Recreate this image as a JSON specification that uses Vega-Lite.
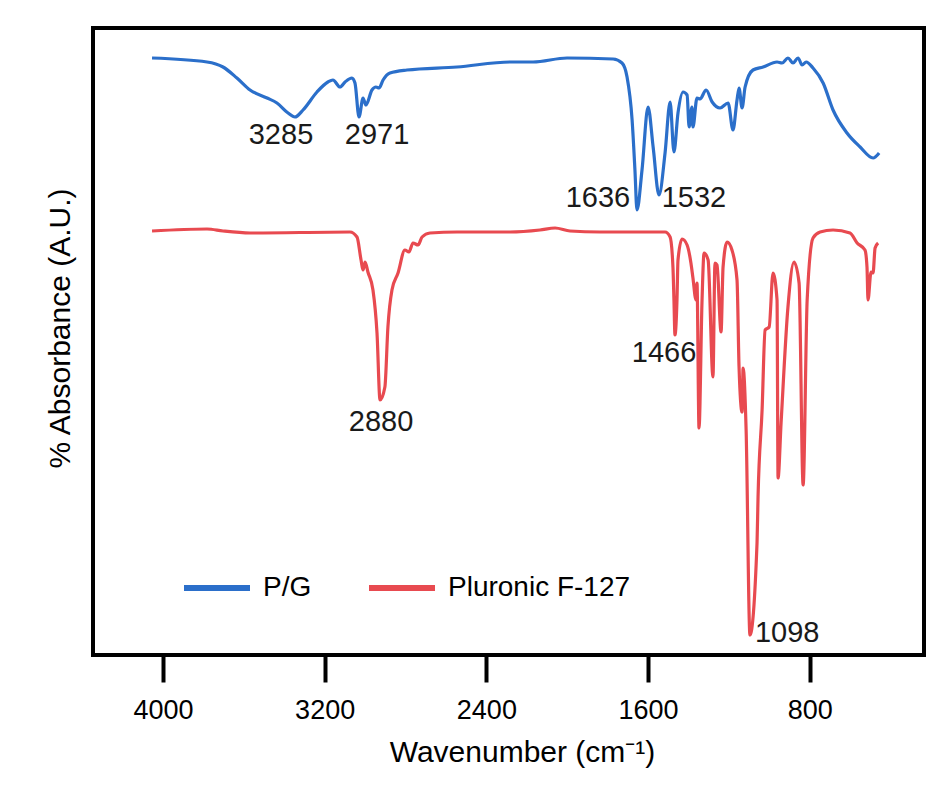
{
  "$schema": "https://vega.github.io/schema/vega-lite/v6.json",
  "width": 831,
  "height": 627,
  "autosize": {"type": "none"},
  "padding": {"left": 93, "top": 28, "right": 18, "bottom": 133},
  "background": "white",
  "config": {
    "font": "Liberation Sans, Arial, sans-serif",
    "view": {"stroke": "black", "strokeWidth": 4}
  },
  "datasets": {
    "spectra": [
      {"sample": "P/G", "wavenumber": 4054, "absorbance": 599},
      {"sample": "P/G", "wavenumber": 3782, "absorbance": 595},
      {"sample": "P/G", "wavenumber": 3703, "absorbance": 590},
      {"sample": "P/G", "wavenumber": 3634, "absorbance": 579},
      {"sample": "P/G", "wavenumber": 3569, "absorbance": 567},
      {"sample": "P/G", "wavenumber": 3485, "absorbance": 559},
      {"sample": "P/G", "wavenumber": 3436, "absorbance": 554},
      {"sample": "P/G", "wavenumber": 3381, "absorbance": 544},
      {"sample": "P/G", "wavenumber": 3347, "absorbance": 540},
      {"sample": "P/G", "wavenumber": 3307, "absorbance": 547},
      {"sample": "P/G", "wavenumber": 3238, "absorbance": 565},
      {"sample": "P/G", "wavenumber": 3184, "absorbance": 575},
      {"sample": "P/G", "wavenumber": 3159, "absorbance": 577},
      {"sample": "P/G", "wavenumber": 3124, "absorbance": 570},
      {"sample": "P/G", "wavenumber": 3099, "absorbance": 575},
      {"sample": "P/G", "wavenumber": 3065, "absorbance": 579},
      {"sample": "P/G", "wavenumber": 3050, "absorbance": 574},
      {"sample": "P/G", "wavenumber": 3030, "absorbance": 540},
      {"sample": "P/G", "wavenumber": 3010, "absorbance": 559},
      {"sample": "P/G", "wavenumber": 2996, "absorbance": 552},
      {"sample": "P/G", "wavenumber": 2966, "absorbance": 567},
      {"sample": "P/G", "wavenumber": 2946, "absorbance": 570},
      {"sample": "P/G", "wavenumber": 2931, "absorbance": 569},
      {"sample": "P/G", "wavenumber": 2911, "absorbance": 577},
      {"sample": "P/G", "wavenumber": 2877, "absorbance": 584},
      {"sample": "P/G", "wavenumber": 2793, "absorbance": 587},
      {"sample": "P/G", "wavenumber": 2545, "absorbance": 590},
      {"sample": "P/G", "wavenumber": 2283, "absorbance": 595},
      {"sample": "P/G", "wavenumber": 2169, "absorbance": 595},
      {"sample": "P/G", "wavenumber": 2001, "absorbance": 599},
      {"sample": "P/G", "wavenumber": 1773, "absorbance": 598},
      {"sample": "P/G", "wavenumber": 1729, "absorbance": 594},
      {"sample": "P/G", "wavenumber": 1704, "absorbance": 580},
      {"sample": "P/G", "wavenumber": 1679, "absorbance": 537},
      {"sample": "P/G", "wavenumber": 1665, "absorbance": 487},
      {"sample": "P/G", "wavenumber": 1655, "absorbance": 447},
      {"sample": "P/G", "wavenumber": 1630, "absorbance": 487},
      {"sample": "P/G", "wavenumber": 1600, "absorbance": 550},
      {"sample": "P/G", "wavenumber": 1575, "absorbance": 510},
      {"sample": "P/G", "wavenumber": 1546, "absorbance": 462},
      {"sample": "P/G", "wavenumber": 1516, "absorbance": 504},
      {"sample": "P/G", "wavenumber": 1491, "absorbance": 555},
      {"sample": "P/G", "wavenumber": 1472, "absorbance": 505},
      {"sample": "P/G", "wavenumber": 1452, "absorbance": 544},
      {"sample": "P/G", "wavenumber": 1427, "absorbance": 565},
      {"sample": "P/G", "wavenumber": 1407, "absorbance": 562},
      {"sample": "P/G", "wavenumber": 1397, "absorbance": 530},
      {"sample": "P/G", "wavenumber": 1383, "absorbance": 550},
      {"sample": "P/G", "wavenumber": 1378, "absorbance": 530},
      {"sample": "P/G", "wavenumber": 1358, "absorbance": 559},
      {"sample": "P/G", "wavenumber": 1343, "absorbance": 558},
      {"sample": "P/G", "wavenumber": 1313, "absorbance": 567},
      {"sample": "P/G", "wavenumber": 1283, "absorbance": 555},
      {"sample": "P/G", "wavenumber": 1244, "absorbance": 549},
      {"sample": "P/G", "wavenumber": 1204, "absorbance": 554},
      {"sample": "P/G", "wavenumber": 1180, "absorbance": 527},
      {"sample": "P/G", "wavenumber": 1160, "absorbance": 557},
      {"sample": "P/G", "wavenumber": 1150, "absorbance": 569},
      {"sample": "P/G", "wavenumber": 1135, "absorbance": 549},
      {"sample": "P/G", "wavenumber": 1120, "absorbance": 570},
      {"sample": "P/G", "wavenumber": 1081, "absorbance": 587},
      {"sample": "P/G", "wavenumber": 1031, "absorbance": 590},
      {"sample": "P/G", "wavenumber": 962, "absorbance": 595},
      {"sample": "P/G", "wavenumber": 937, "absorbance": 594},
      {"sample": "P/G", "wavenumber": 908, "absorbance": 599},
      {"sample": "P/G", "wavenumber": 883, "absorbance": 594},
      {"sample": "P/G", "wavenumber": 858, "absorbance": 599},
      {"sample": "P/G", "wavenumber": 838, "absorbance": 592},
      {"sample": "P/G", "wavenumber": 818, "absorbance": 595},
      {"sample": "P/G", "wavenumber": 784, "absorbance": 589},
      {"sample": "P/G", "wavenumber": 734, "absorbance": 574},
      {"sample": "P/G", "wavenumber": 685, "absorbance": 547},
      {"sample": "P/G", "wavenumber": 616, "absorbance": 524},
      {"sample": "P/G", "wavenumber": 551, "absorbance": 510},
      {"sample": "P/G", "wavenumber": 487, "absorbance": 499},
      {"sample": "P/G", "wavenumber": 457, "absorbance": 504},
      {"sample": "Pluronic F-127", "wavenumber": 4054, "absorbance": 426},
      {"sample": "Pluronic F-127", "wavenumber": 3782, "absorbance": 428},
      {"sample": "Pluronic F-127", "wavenumber": 3703, "absorbance": 426},
      {"sample": "Pluronic F-127", "wavenumber": 3569, "absorbance": 424},
      {"sample": "Pluronic F-127", "wavenumber": 3075, "absorbance": 425},
      {"sample": "Pluronic F-127", "wavenumber": 3040, "absorbance": 420},
      {"sample": "Pluronic F-127", "wavenumber": 3020, "absorbance": 397},
      {"sample": "Pluronic F-127", "wavenumber": 3010, "absorbance": 387},
      {"sample": "Pluronic F-127", "wavenumber": 3000, "absorbance": 395},
      {"sample": "Pluronic F-127", "wavenumber": 2986, "absorbance": 385},
      {"sample": "Pluronic F-127", "wavenumber": 2961, "absorbance": 367},
      {"sample": "Pluronic F-127", "wavenumber": 2941, "absorbance": 324},
      {"sample": "Pluronic F-127", "wavenumber": 2926, "absorbance": 257},
      {"sample": "Pluronic F-127", "wavenumber": 2902, "absorbance": 270},
      {"sample": "Pluronic F-127", "wavenumber": 2887, "absorbance": 330},
      {"sample": "Pluronic F-127", "wavenumber": 2867, "absorbance": 367},
      {"sample": "Pluronic F-127", "wavenumber": 2837, "absorbance": 384},
      {"sample": "Pluronic F-127", "wavenumber": 2803, "absorbance": 407},
      {"sample": "Pluronic F-127", "wavenumber": 2783, "absorbance": 405},
      {"sample": "Pluronic F-127", "wavenumber": 2763, "absorbance": 414},
      {"sample": "Pluronic F-127", "wavenumber": 2738, "absorbance": 412},
      {"sample": "Pluronic F-127", "wavenumber": 2718, "absorbance": 420},
      {"sample": "Pluronic F-127", "wavenumber": 2679, "absorbance": 424},
      {"sample": "Pluronic F-127", "wavenumber": 2545, "absorbance": 425},
      {"sample": "Pluronic F-127", "wavenumber": 2283, "absorbance": 425},
      {"sample": "Pluronic F-127", "wavenumber": 2135, "absorbance": 427},
      {"sample": "Pluronic F-127", "wavenumber": 2060, "absorbance": 429},
      {"sample": "Pluronic F-127", "wavenumber": 1986, "absorbance": 426},
      {"sample": "Pluronic F-127", "wavenumber": 1838, "absorbance": 425},
      {"sample": "Pluronic F-127", "wavenumber": 1674, "absorbance": 425},
      {"sample": "Pluronic F-127", "wavenumber": 1516, "absorbance": 425},
      {"sample": "Pluronic F-127", "wavenumber": 1491, "absorbance": 420},
      {"sample": "Pluronic F-127", "wavenumber": 1477, "absorbance": 390},
      {"sample": "Pluronic F-127", "wavenumber": 1472, "absorbance": 357},
      {"sample": "Pluronic F-127", "wavenumber": 1467, "absorbance": 322},
      {"sample": "Pluronic F-127", "wavenumber": 1457, "absorbance": 357},
      {"sample": "Pluronic F-127", "wavenumber": 1452, "absorbance": 397},
      {"sample": "Pluronic F-127", "wavenumber": 1432, "absorbance": 418},
      {"sample": "Pluronic F-127", "wavenumber": 1407, "absorbance": 412},
      {"sample": "Pluronic F-127", "wavenumber": 1388, "absorbance": 394},
      {"sample": "Pluronic F-127", "wavenumber": 1378, "absorbance": 379},
      {"sample": "Pluronic F-127", "wavenumber": 1363, "absorbance": 357},
      {"sample": "Pluronic F-127", "wavenumber": 1358, "absorbance": 374},
      {"sample": "Pluronic F-127", "wavenumber": 1348, "absorbance": 229},
      {"sample": "Pluronic F-127", "wavenumber": 1333, "absorbance": 357},
      {"sample": "Pluronic F-127", "wavenumber": 1323, "absorbance": 404},
      {"sample": "Pluronic F-127", "wavenumber": 1303, "absorbance": 397},
      {"sample": "Pluronic F-127", "wavenumber": 1279, "absorbance": 280},
      {"sample": "Pluronic F-127", "wavenumber": 1269, "absorbance": 394},
      {"sample": "Pluronic F-127", "wavenumber": 1259, "absorbance": 392},
      {"sample": "Pluronic F-127", "wavenumber": 1239, "absorbance": 325},
      {"sample": "Pluronic F-127", "wavenumber": 1229, "absorbance": 390},
      {"sample": "Pluronic F-127", "wavenumber": 1209, "absorbance": 415},
      {"sample": "Pluronic F-127", "wavenumber": 1185, "absorbance": 407},
      {"sample": "Pluronic F-127", "wavenumber": 1160, "absorbance": 377},
      {"sample": "Pluronic F-127", "wavenumber": 1150, "absorbance": 290},
      {"sample": "Pluronic F-127", "wavenumber": 1135, "absorbance": 245},
      {"sample": "Pluronic F-127", "wavenumber": 1130, "absorbance": 289},
      {"sample": "Pluronic F-127", "wavenumber": 1115, "absorbance": 227},
      {"sample": "Pluronic F-127", "wavenumber": 1096, "absorbance": 22},
      {"sample": "Pluronic F-127", "wavenumber": 1061, "absorbance": 114},
      {"sample": "Pluronic F-127", "wavenumber": 1056, "absorbance": 160},
      {"sample": "Pluronic F-127", "wavenumber": 1036, "absorbance": 247},
      {"sample": "Pluronic F-127", "wavenumber": 1021, "absorbance": 327},
      {"sample": "Pluronic F-127", "wavenumber": 1001, "absorbance": 330},
      {"sample": "Pluronic F-127", "wavenumber": 982, "absorbance": 384},
      {"sample": "Pluronic F-127", "wavenumber": 962, "absorbance": 357},
      {"sample": "Pluronic F-127", "wavenumber": 957, "absorbance": 179},
      {"sample": "Pluronic F-127", "wavenumber": 942, "absorbance": 234},
      {"sample": "Pluronic F-127", "wavenumber": 908, "absorbance": 350},
      {"sample": "Pluronic F-127", "wavenumber": 878, "absorbance": 395},
      {"sample": "Pluronic F-127", "wavenumber": 853, "absorbance": 374},
      {"sample": "Pluronic F-127", "wavenumber": 833, "absorbance": 172},
      {"sample": "Pluronic F-127", "wavenumber": 813, "absorbance": 357},
      {"sample": "Pluronic F-127", "wavenumber": 784, "absorbance": 419},
      {"sample": "Pluronic F-127", "wavenumber": 749, "absorbance": 425},
      {"sample": "Pluronic F-127", "wavenumber": 685, "absorbance": 427},
      {"sample": "Pluronic F-127", "wavenumber": 601, "absorbance": 424},
      {"sample": "Pluronic F-127", "wavenumber": 566, "absorbance": 414},
      {"sample": "Pluronic F-127", "wavenumber": 527, "absorbance": 407},
      {"sample": "Pluronic F-127", "wavenumber": 517, "absorbance": 390},
      {"sample": "Pluronic F-127", "wavenumber": 512, "absorbance": 357},
      {"sample": "Pluronic F-127", "wavenumber": 497, "absorbance": 385},
      {"sample": "Pluronic F-127", "wavenumber": 487, "absorbance": 384},
      {"sample": "Pluronic F-127", "wavenumber": 477, "absorbance": 409},
      {"sample": "Pluronic F-127", "wavenumber": 462, "absorbance": 414}
    ],
    "labels": [
      {"label": "3285", "wavenumber": 3416, "absorbance": 522},
      {"label": "2971", "wavenumber": 2941, "absorbance": 522},
      {"label": "1636", "wavenumber": 1848, "absorbance": 459},
      {"label": "1532", "wavenumber": 1373, "absorbance": 459},
      {"label": "2880", "wavenumber": 2921, "absorbance": 235},
      {"label": "1466", "wavenumber": 1521, "absorbance": 304},
      {"label": "1098", "wavenumber": 912, "absorbance": 24}
    ]
  },
  "layer": [
    {
      "data": {"name": "spectra"},
      "mark": {"type": "line", "strokeWidth": 3.2, "strokeJoin": "round", "interpolate": "monotone"},
      "encoding": {
        "x": {
          "field": "wavenumber",
          "type": "quantitative",
          "scale": {"domain": [235, 4346], "reverse": true, "nice": false, "zero": false},
          "axis": {
            "values": [4000, 3200, 2400, 1600, 800],
            "format": "d",
            "grid": false,
            "domain": false,
            "tickColor": "black",
            "tickWidth": 4,
            "tickSize": 27,
            "labelFontSize": 27,
            "labelColor": "black",
            "labelPadding": 15,
            "labelFlush": false,
            "title": "Wavenumber (cm⁻¹)",
            "titleFontSize": 30,
            "titleFontWeight": "normal",
            "titleColor": "black",
            "titleX": 429,
            "titleY": 97,
            "titleAlign": "center",
            "titleBaseline": "middle"
          }
        },
        "y": {
          "field": "absorbance",
          "type": "quantitative",
          "scale": {"domain": [2, 629], "nice": false, "zero": false},
          "axis": {
            "labels": false,
            "ticks": false,
            "domain": false,
            "grid": false,
            "title": "% Absorbance (A.U.)",
            "titleFontSize": 30,
            "titleFontWeight": "normal",
            "titleColor": "black",
            "titleAngle": -90,
            "titleX": -33,
            "titleY": 300,
            "titleAlign": "center",
            "titleBaseline": "middle"
          }
        },
        "color": {
          "field": "sample",
          "type": "nominal",
          "scale": {"domain": ["P/G", "Pluronic F-127"], "range": ["#2b6fca", "#e84a50"]},
          "legend": {
            "orient": "none",
            "legendX": 88,
            "legendY": 524,
            "direction": "horizontal",
            "title": null,
            "symbolType": "stroke",
            "symbolSize": 4356,
            "symbolStrokeWidth": 6,
            "labelFontSize": 28,
            "labelColor": "black",
            "labelOffset": 10,
            "labelLimit": 400,
            "columnPadding": 45
          }
        }
      }
    },
    {
      "data": {"name": "labels"},
      "mark": {"type": "text", "fontSize": 29, "color": "#1a1a1a", "align": "center", "baseline": "middle"},
      "encoding": {
        "x": {"field": "wavenumber", "type": "quantitative"},
        "y": {"field": "absorbance", "type": "quantitative"},
        "text": {"field": "label"}
      }
    }
  ]
}
